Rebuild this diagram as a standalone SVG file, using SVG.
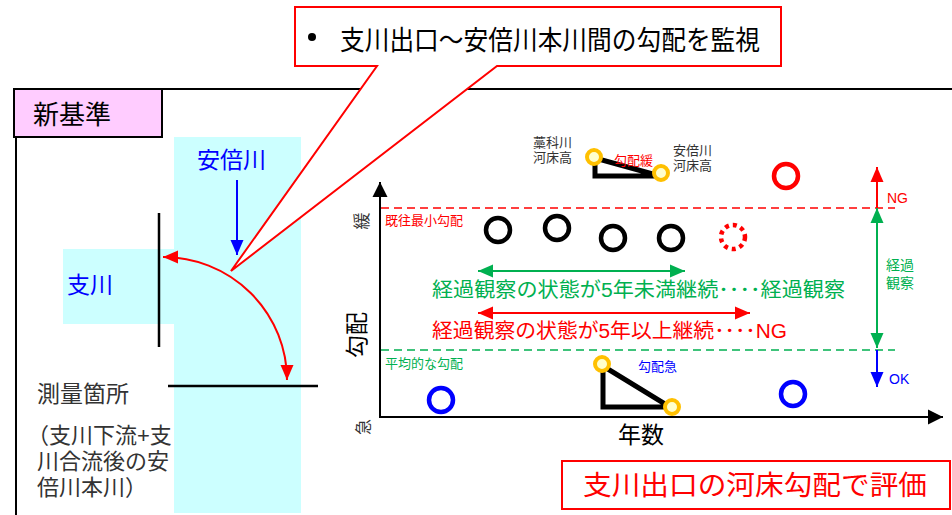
<svg xmlns="http://www.w3.org/2000/svg" width="952" height="515" viewBox="0 0 952 515">
<style>
text{font-family:"Liberation Sans","Noto Sans CJK JP",sans-serif}
.blk{fill:#000}
.gry{fill:#333}
.red{fill:#FF0000}
.grn{fill:#00B050}
.blu{fill:#0000FF}
.s13{font-size:13px}
.ring{fill:none;stroke-width:4.5}
.tri{fill:none;stroke:#000;stroke-width:5;stroke-linejoin:miter}
.pt{fill:#FFFFCC;stroke:#FFC000;stroke-width:4}
</style>
<defs>
<marker id="aK" markerUnits="userSpaceOnUse" markerWidth="16" markerHeight="16" refX="15" refY="8" orient="auto-start-reverse"><path d="M0,0.5 L15,8 L0,15.5 Z" fill="#000"/></marker>
<marker id="aR" markerUnits="userSpaceOnUse" markerWidth="16" markerHeight="14" refX="15" refY="7" orient="auto-start-reverse"><path d="M0,0.5 L15,7 L0,13.5 Z" fill="#FF0000"/></marker>
<marker id="aG" markerUnits="userSpaceOnUse" markerWidth="16" markerHeight="14" refX="15" refY="7" orient="auto-start-reverse"><path d="M0,0.5 L15,7 L0,13.5 Z" fill="#00B050"/></marker>
<marker id="aB" markerUnits="userSpaceOnUse" markerWidth="16" markerHeight="14" refX="15" refY="7" orient="auto-start-reverse"><path d="M0,0.5 L15,7 L0,13.5 Z" fill="#0000FF"/></marker>
</defs>

<!-- frame -->
<g id="frame">
<path d="M13,89 H952 M16,89 V515" stroke="#000" stroke-width="2" fill="none"/>
</g>

<!-- rivers -->
<g id="honkawa">
<rect x="174" y="137" width="127" height="376" fill="#CCFFFF"/>
<text x="197" y="168" class="blu" font-size="23">安倍川</text>
</g>
<g id="shisen">
<rect x="63" y="249" width="111" height="75" fill="#CCFFFF"/>
<text x="67" y="293" class="blu" font-size="23">支川</text>
</g>

<g id="kijun">
<rect x="14" y="89" width="148" height="48" fill="#FFCCFF" stroke="#000" stroke-width="2"/>
<text x="33" y="124" class="blk" font-size="26">新基準</text>
</g>

<g id="sokuryo">
<text x="37" y="402" class="gry" font-size="23">測量箇所</text>
<text class="gry" font-size="22"><tspan x="27" y="443">（支川下流+支</tspan><tspan x="37" y="469">川合流後の安</tspan><tspan x="37" y="495">倍川本川）</tspan></text>
</g>

<!-- connectors -->
<g id="connectors" fill="none">
<line x1="159" y1="213" x2="159" y2="347" stroke="#000" stroke-width="2.5"/>
<line x1="168" y1="386" x2="318" y2="386" stroke="#000" stroke-width="2.5"/>
<line x1="237" y1="180" x2="237" y2="255" stroke="#0000FF" stroke-width="2" marker-end="url(#aB)"/>
<path d="M163,257 A124,123 0 0 1 287,380" stroke="#FF0000" stroke-width="2" marker-start="url(#aR)" marker-end="url(#aR)"/>
<!-- axes -->
<line x1="380" y1="417" x2="380" y2="182" stroke="#000" stroke-width="2" marker-end="url(#aK)"/>
<line x1="379" y1="417" x2="943" y2="417" stroke="#000" stroke-width="2" marker-end="url(#aK)"/>
<!-- dashed guide lines -->
<line x1="381" y1="208" x2="895" y2="208" stroke="#FF0000" stroke-width="1.5" stroke-dasharray="8,5"/>
<line x1="381" y1="350" x2="895" y2="350" stroke="#00B050" stroke-width="1.5" stroke-dasharray="8,5"/>
<!-- horizontal double arrows -->
<line x1="478" y1="271" x2="685" y2="271" stroke="#00B050" stroke-width="2" marker-start="url(#aG)" marker-end="url(#aG)"/>
<line x1="478" y1="313" x2="750" y2="313" stroke="#FF0000" stroke-width="2" marker-start="url(#aR)" marker-end="url(#aR)"/>
<!-- right judgement arrows -->
<line x1="877" y1="208" x2="877" y2="167" stroke="#FF0000" stroke-width="2" marker-end="url(#aR)"/>
<line x1="877" y1="208" x2="877" y2="348" stroke="#00B050" stroke-width="2" marker-start="url(#aG)" marker-end="url(#aG)"/>
<line x1="877" y1="350" x2="877" y2="387" stroke="#0000FF" stroke-width="2" marker-end="url(#aB)"/>
</g>

<!-- axis labels -->
<g id="axis-labels">
<text transform="translate(368,221) rotate(-90)" text-anchor="middle" class="gry" font-size="17">緩</text>
<text transform="translate(365,335) rotate(-90)" text-anchor="middle" class="blk" font-size="23">勾配</text>
<text transform="translate(369,427) rotate(-90)" text-anchor="middle" class="gry" font-size="16">急</text>
<text x="618" y="443" class="blk" font-size="23">年数</text>
</g>

<g id="guide-labels">
<text x="385" y="225" class="red s13">既往最小勾配</text>
<text x="385" y="368" class="grn s13">平均的な勾配</text>
<text x="887" y="203" class="red" font-size="14">NG</text>
<text class="grn" font-size="14"><tspan x="886" y="270">経過</tspan><tspan x="886" y="288">観察</tspan></text>
<text x="889" y="384" class="blu" font-size="14">OK</text>
</g>

<g id="status-texts">
<text x="432" y="297" class="grn" font-size="20" textLength="413" lengthAdjust="spacingAndGlyphs">経過観察の状態が5年未満継続････経過観察</text>
<text x="432" y="338" class="red" font-size="20" textLength="355" lengthAdjust="spacingAndGlyphs">経過観察の状態が5年以上継続････NG</text>
</g>

<g id="points">
<circle cx="498" cy="230" r="12" class="ring" stroke="#000"/>
<circle cx="557" cy="228" r="12" class="ring" stroke="#000"/>
<circle cx="613" cy="238" r="12" class="ring" stroke="#000"/>
<circle cx="671" cy="238" r="12" class="ring" stroke="#000"/>
<circle cx="733" cy="237" r="12" class="ring" stroke="#FF0000" stroke-dasharray="4,4"/>
<circle cx="786" cy="176" r="12" class="ring" stroke="#FF0000"/>
<circle cx="441" cy="400" r="12" class="ring" stroke="#0000FF"/>
<circle cx="793" cy="394" r="12" class="ring" stroke="#0000FF"/>
</g>

<g id="tri-top">
<path d="M595,158 V176 H660 Z" class="tri"/>
<circle cx="594" cy="157" r="7" class="pt"/>
<circle cx="661" cy="173" r="7" class="pt"/>
<text class="gry s13"><tspan x="533" y="147">藁科川</tspan><tspan x="533" y="162">河床高</tspan></text>
<text x="614" y="165" class="red s13">勾配緩</text>
<text class="gry s13"><tspan x="673" y="155">安倍川</tspan><tspan x="673" y="170">河床高</tspan></text>
</g>

<g id="tri-bottom">
<path d="M603,366 V407 H670 Z" class="tri"/>
<circle cx="602" cy="364" r="7" class="pt"/>
<circle cx="672" cy="407" r="7" class="pt"/>
<text x="638" y="371" class="blu s13">勾配急</text>
</g>

<g id="hyoka">
<rect x="562" y="461" width="388" height="48" fill="#fff" stroke="#FF0000" stroke-width="2"/>
<text x="583" y="495" class="red" font-size="27" textLength="344" lengthAdjust="spacingAndGlyphs">支川出口の河床勾配で評価</text>
</g>

<g id="callout">
<path d="M295,7 H781 V66 H497 L231,271 L377,66 H295 Z" fill="#fff" stroke="#FF0000" stroke-width="2" stroke-linejoin="miter"/>
<circle cx="312" cy="37" r="4" fill="#000"/>
<text x="340" y="50" class="blk" font-size="27" textLength="420" lengthAdjust="spacingAndGlyphs">支川出口～安倍川本川間の勾配を監視</text>
</g>
</svg>
